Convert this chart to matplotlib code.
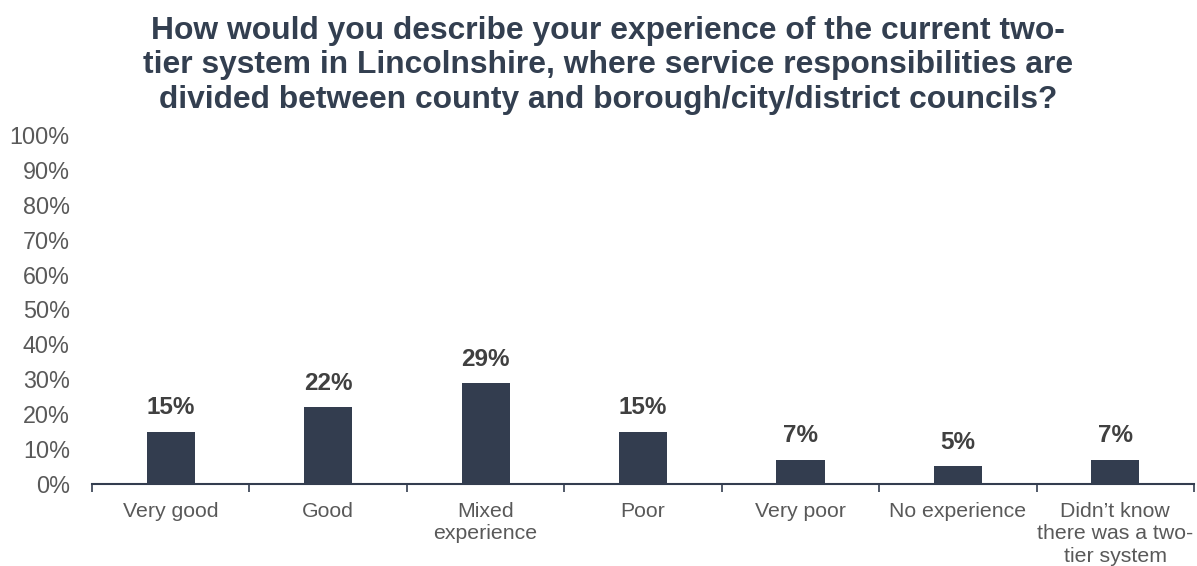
import matplotlib.pyplot as plt
import numpy as np

plt.rcParams['font.family'] = ['Liberation Sans', 'DejaVu Sans']

categories = ["Very good", "Good", "Mixed\nexperience", "Poor", "Very poor",
              "No experience", "Didn\u2019t know\nthere was a two-\ntier system"]
values = [15, 22, 29, 15, 7, 5, 7]
title = ("How would you describe your experience of the current two-\n"
         "tier system in Lincolnshire, where service responsibilities are\n"
         "divided between county and borough/city/district councils?")

bar_color = "#333D4F"
text_color = "#595959"

fig = plt.figure(figsize=(11.97, 5.66), dpi=100)
ax = fig.add_axes([0.0769, 0.145, 0.9206, 0.6166])

x = np.arange(len(categories))
bars = ax.bar(x, values, width=0.306, color=bar_color, zorder=2)
for b, v in zip(bars, values):
    ax.text(b.get_x() + b.get_width() / 2, v + 3.5, f"{v}%", ha="center", va="bottom",
            fontsize=17.5, fontweight="bold", color="#404040")

ax.set_xlim(-0.5, len(categories) - 0.5)
ax.set_ylim(0, 100)
ax.set_yticks(range(0, 101, 10))
ax.set_yticklabels([f"{t}%" for t in range(0, 101, 10)], fontsize=16.8, color=text_color)
ax.set_xticks(x)
ax.set_xticklabels(categories, fontsize=15.3, color=text_color, linespacing=1.22)
ax.set_xticks(np.arange(-0.5, len(categories)), minor=True)
ax.tick_params(axis="x", which="major", length=0, pad=13)
ax.tick_params(axis="x", which="minor", length=6, width=1.2, color=bar_color)
ax.tick_params(axis="y", length=0, pad=16)

for s in ["top", "right", "left"]:
    ax.spines[s].set_visible(False)
ax.spines["bottom"].set_color(bar_color)
ax.spines["bottom"].set_linewidth(1.5)

fig.text(0.508, 0.972, title, ha="center", va="top", fontsize=22.9,
         fontweight="bold", color="#333F50", linespacing=1.2)

fig.savefig("out.png", dpi=100)
